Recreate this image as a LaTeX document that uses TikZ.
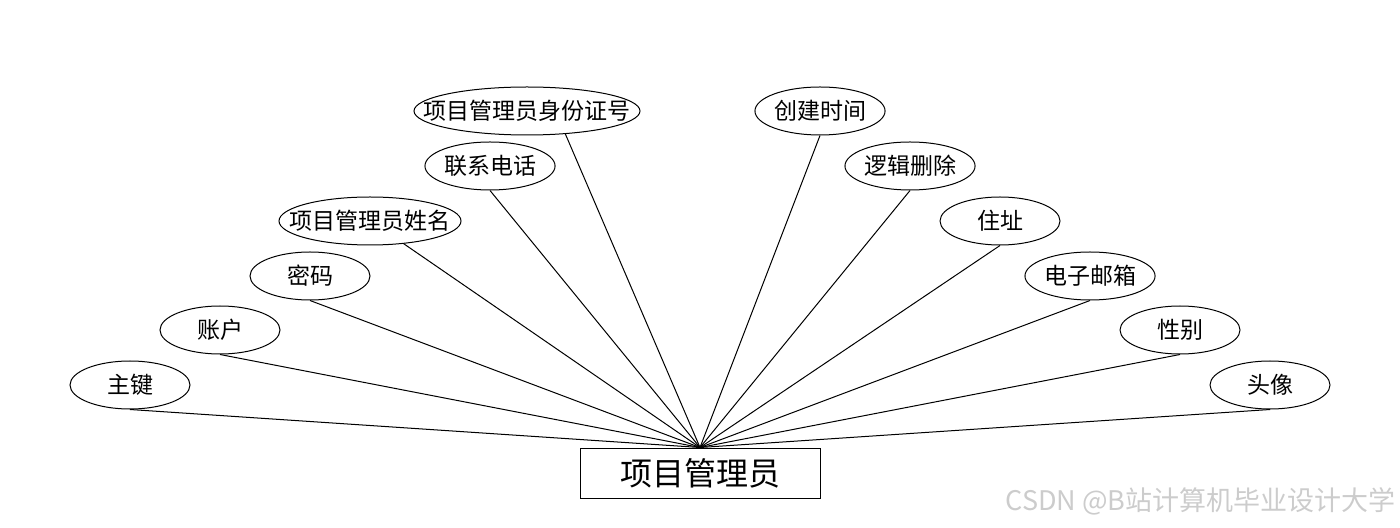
\documentclass[tikz,border=0pt]{standalone}
\usepackage{fontspec}
\newfontfamily\cjk{Noto Sans CJK SC}
\usetikzlibrary{shapes.geometric}

% text that does not widen its ellipse
\newcommand\nowidth[1]{\makebox[0pt]{#1}}

\tikzset{
    attr/.style={draw, ellipse, line width=0.5pt, minimum width=60pt, minimum height=24pt,
                 inner sep=0pt, font=\cjk\fontsize{11.5pt}{13pt}\selectfont},
    entity/.style={draw, rectangle, line width=0.5pt, minimum width=120pt, minimum height=25pt,
                   inner sep=0pt, font=\cjk\fontsize{16pt}{18pt}\selectfont},
    link/.style={line width=0.5pt}
}

\begin{document}
\begin{tikzpicture}[x=0.5pt,y=-0.5pt]
    \useasboundingbox (0,0) rectangle (1400,528);

    % entity
    \node[entity] (admin) at (700,473) {项目管理员};

    % attributes, left side
    \node[attr] (pk)   at (130,385) {主键};
    \node[attr] (acc)  at (220,330) {账户};
    \node[attr] (pwd)  at (310,276) {密码};
    \node[attr, minimum width=91pt]  (name) at (370,221) {\nowidth{项目管理员姓名}};
    \node[attr] (tel)  at (490,166) {联系电话};
    \node[attr, minimum width=113pt] (idno) at (527,111) {\nowidth{项目管理员身份证号}};

    % attributes, right side
    \node[attr] (ctime)  at (820,111)  {创建时间};
    \node[attr] (del)    at (910,166)  {逻辑删除};
    \node[attr] (addr)   at (1000,221) {住址};
    \node[attr] (mail)   at (1090,276) {电子邮箱};
    \node[attr] (sex)    at (1180,330) {性别};
    \node[attr] (avatar) at (1270,385) {头像};

    \foreach \a in {pk,acc,pwd,tel,ctime,del,addr,mail,sex,avatar}
        \draw[link] (\a.south) -- (admin.north);
    \draw[link] (name.-34) -- (admin.north);
    \draw[link] (idno.-31) -- (admin.north);

    % watermark
    \node[anchor=east, text=black!20, inner sep=0pt, font=\cjk\fontsize{13.5pt}{15pt}\selectfont]
        (mark) at (1396,501) {CSDN @B站计算机毕业设计大学};
\end{tikzpicture}
\end{document}
